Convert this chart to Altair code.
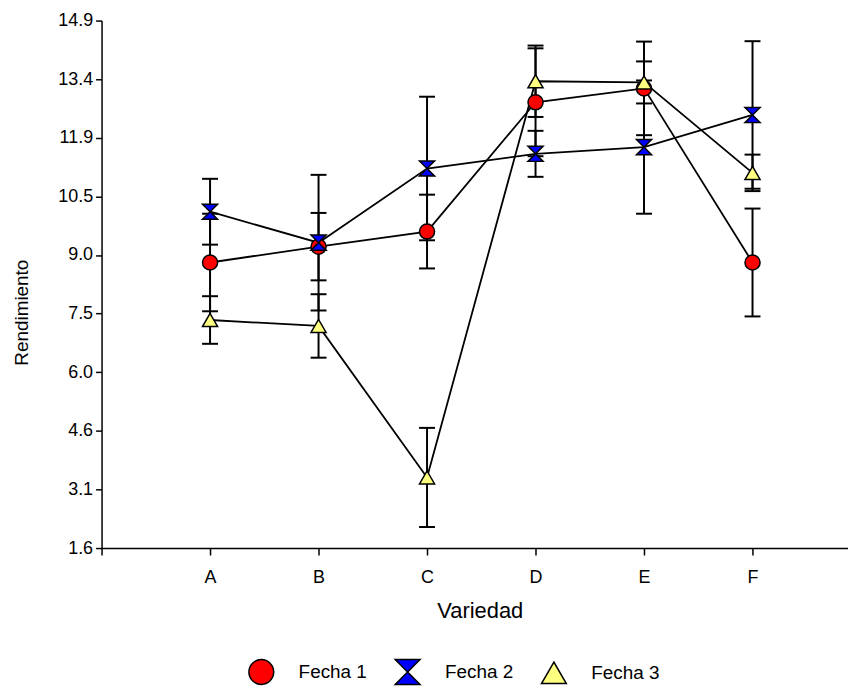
import altair as alt
import numpy as np
import pandas as pd

categories = ["A", "B", "C", "D", "E", "F"]
series_names = ["Fecha 1", "Fecha 2", "Fecha 3"]

fecha1 = [8.80, 9.20, 9.58, 12.84, 13.19, 8.80]
fecha1_err = [1.23, 0.85, 0.93, 1.36, 1.18, 1.36]
fecha2 = [10.08, 9.30, 11.17, 11.54, 11.71, 12.52]
fecha2_err = [0.83, 1.71, 1.81, 0.58, 1.68, 1.86]
fecha3 = [7.35, 7.20, 3.38, 13.37, 13.34, 11.06]
fecha3_err = [0.60, 0.80, 1.25, 0.90, 0.53, 0.46]

fill_colors = ["#ff0000", "#0000ff", "#ffff80"]
stroke_colors = ["#000000", "#000000", "#000000"]
shapes = ["circle", "M-1,-1L1,-1L-1,1L1,1Z", "triangle-up"]

y_min, y_max = 1.6, 14.9
y_tick_values = list(np.linspace(y_min, y_max, 10))

rows = []
for name, vals, errs in zip(series_names, [fecha1, fecha2, fecha3],
                            [fecha1_err, fecha2_err, fecha3_err]):
    for i, (cat, v, e) in enumerate(zip(categories, vals, errs)):
        rows.append({"serie": name, "cat": cat, "xi": i + 1, "y": v,
                     "lo": v - e, "hi": v + e})
df = pd.DataFrame(rows)

label_expr = "['', " + ", ".join(f"'{c}'" for c in categories) + "][datum.value]"

x_enc = alt.X("xi:Q",
              scale=alt.Scale(domain=[0, 6.88], nice=False, zero=False),
              axis=alt.Axis(values=list(range(0, len(categories) + 1)),
                            labelExpr=label_expr, title="Variedad",
                            tickSize=7, labelPadding=14, labelFontSize=18,
                            titleFontSize=22, titleX=380, titleY=63,
                            titleBaseline="middle", labelFlush=False))
y_scale = alt.Scale(domain=[y_min, y_max], nice=False, zero=False)
y_axis = alt.Axis(values=y_tick_values, format=".1f", title="Rendimiento",
                  tickSize=6, labelPadding=3, labelFontSize=18,
                  titleFontSize=19, titleX=-80, titleY=293,
                  titleBaseline="middle", titleAngle=-90, labelFlush=False)

base = alt.Chart(df)

lines = base.mark_line(color="black", strokeWidth=1.8).encode(
    x=x_enc, y=alt.Y("y:Q", scale=y_scale, axis=y_axis), detail="serie:N")

rules = base.mark_rule(color="black", strokeWidth=2).encode(
    x="xi:Q", y="lo:Q", y2="hi:Q")

caps_lo = base.mark_tick(color="black", thickness=2, size=16,
                         orient="horizontal", opacity=1).encode(x="xi:Q", y="lo:Q")
caps_hi = base.mark_tick(color="black", thickness=2, size=16,
                         orient="horizontal", opacity=1).encode(x="xi:Q", y="hi:Q")

legend = alt.Legend(title=None, symbolStrokeWidth=1.5, symbolSize=620,
                    symbolOpacity=1)

points = base.mark_point(filled=True, size=230, strokeWidth=1.5,
                         opacity=1, fillOpacity=1).encode(
    x="xi:Q", y="y:Q",
    fill=alt.Fill("serie:N", scale=alt.Scale(domain=series_names, range=fill_colors),
                  legend=legend),
    stroke=alt.Stroke("serie:N", scale=alt.Scale(domain=series_names, range=stroke_colors),
                      legend=legend),
    shape=alt.Shape("serie:N", scale=alt.Scale(domain=series_names, range=shapes),
                    legend=legend),
    order=alt.Order("serie:N"))

chart = alt.layer(lines, rules, caps_lo, caps_hi, points).properties(
    width=750, height=530,
    autosize=alt.AutoSizeParams(type="none"),
    padding={"left": 94, "top": 11, "right": 0, "bottom": 142},
).configure_view(stroke=None).configure_axis(
    domainColor="black", domainWidth=1.5, tickColor="black", tickWidth=1.5,
    labelColor="black", titleColor="black", labelFont="Liberation Sans",
    titleFont="Liberation Sans", titleFontWeight="normal", grid=False,
).configure_legend(
    orient="none", legendX=147, legendY=641, direction="horizontal",
    symbolSize=620, symbolStrokeWidth=1.5,
    labelFont="Liberation Sans", labelFontSize=19, labelColor="black",
    labelOffset=24, columnPadding=25, padding=0,
)

chart.save("out.html", embed_options={"renderer": "svg", "actions": False})
